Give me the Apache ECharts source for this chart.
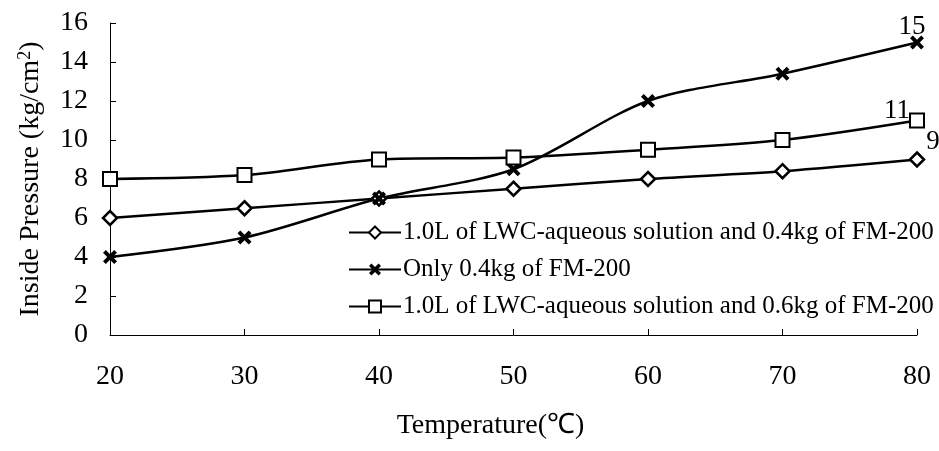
<!DOCTYPE html>
<html>
<head>
<meta charset="utf-8">
<script src="https://cdn.jsdelivr.net/npm/echarts@6/dist/echarts.min.js"></script>
<style>html,body{margin:0;padding:0;background:#fff;}#c{width:939px;height:451px;}</style>
</head>
<body>
<div id="c"></div>
<script>
const temperatures = [20, 30, 40, 50, 60, 70, 80];
const seriesNames = [
  '1.0L of LWC-aqueous solution and 0.4kg of FM-200',
  'Only 0.4kg of FM-200',
  '1.0L of LWC-aqueous solution and 0.6kg of FM-200'
];
const lwc04 = [6, 6.5, 7, 7.5, 8, 8.4, 9];
const only04 = [4, 5, 7, 8.5, 12, 13.4, 15];
const lwc06 = [8, 8.2, 9, 9.1, 9.5, 10, 11];
const endLabels = ['9', '15', '11'];
const yTicks = [0, 2, 4, 6, 8, 10, 12, 14, 16];

const FONT = 'Liberation Serif';
const xPath = 'path://M0,2 L2,0 L5,3 L8,0 L10,2 L7,5 L10,8 L8,10 L5,7 L2,10 L0,8 L3,5 Z';

function build(values, labelText, labelOffset) {
  return values.map((v, i) => {
    const item = { value: [temperatures[i], v] };
    if (i === values.length - 1) {
      item.label = {
        show: true, position: 'top', formatter: labelText,
        offset: labelOffset, color: '#000', fontFamily: FONT, fontSize: 27
      };
    }
    return item;
  });
}

const chart = echarts.init(document.getElementById('c'));
chart.setOption({
  animation: false,
  backgroundColor: '#fff',
  grid: { left: 110, right: 22, top: 23, bottom: 116 },
  legend: {
    orient: 'vertical', left: 343, top: 215, itemGap: 12,
    itemWidth: 52, itemHeight: 15,
    textStyle: { fontFamily: FONT, fontSize: 25, color: '#000', padding: [0, 0, 0, -3] },
    data: seriesNames
  },
  xAxis: {
    type: 'value', min: 20, max: 80, interval: 10,
    name: 'Temperature(℃)', nameLocation: 'middle', nameGap: 77,
    nameTextStyle: { fontFamily: FONT, fontSize: 28, color: '#000', padding: [0, 46, 0, 0] },
    axisLine: { lineStyle: { color: '#000', width: 1 } },
    axisTick: { inside: true, length: 6, lineStyle: { color: '#000' } },
    axisLabel: { margin: 28, fontFamily: FONT, fontSize: 28, color: '#000' },
    splitLine: { show: false }
  },
  yAxis: {
    type: 'value', min: yTicks[0], max: yTicks[yTicks.length - 1], interval: 2,
    name: 'Inside Pressure (kg/cm{sup|2})', nameLocation: 'middle', nameGap: 64,
    nameTextStyle: {
      fontFamily: FONT, fontSize: 28, color: '#000',
      rich: { sup: { fontFamily: FONT, fontSize: 18, color: '#000', verticalAlign: 'top', padding: [0, 0, 12, 0] } }
    },
    axisLine: { show: true, lineStyle: { color: '#000', width: 1 } },
    axisTick: { show: true, inside: true, length: 6, lineStyle: { color: '#000' } },
    axisLabel: { margin: 22, fontFamily: FONT, fontSize: 28, color: '#000' },
    splitLine: { show: false }
  },
  series: [
    {
      name: seriesNames[0], type: 'line', smooth: 0.3,
      data: build(lwc04, endLabels[0], [16, 9]),
      symbol: 'diamond', symbolSize: 14,
      lineStyle: { color: '#000', width: 2.5 },
      itemStyle: { color: '#fff', borderColor: '#000', borderWidth: 2.5 }
    },
    {
      name: seriesNames[1], type: 'line', smooth: 0.3,
      data: build(only04, endLabels[1], [-5, 10]),
      symbol: xPath, symbolSize: 14,
      lineStyle: { color: '#000', width: 2.5 },
      itemStyle: { color: '#000', borderColor: '#000', borderWidth: 0 }
    },
    {
      name: seriesNames[2], type: 'line', smooth: 0.3,
      data: build(lwc06, endLabels[2], [-20, 17]),
      symbol: 'rect', symbolSize: 14,
      lineStyle: { color: '#000', width: 2.5 },
      itemStyle: { color: '#fff', borderColor: '#000', borderWidth: 2 }
    }
  ]
});
</script>
</body>
</html>
